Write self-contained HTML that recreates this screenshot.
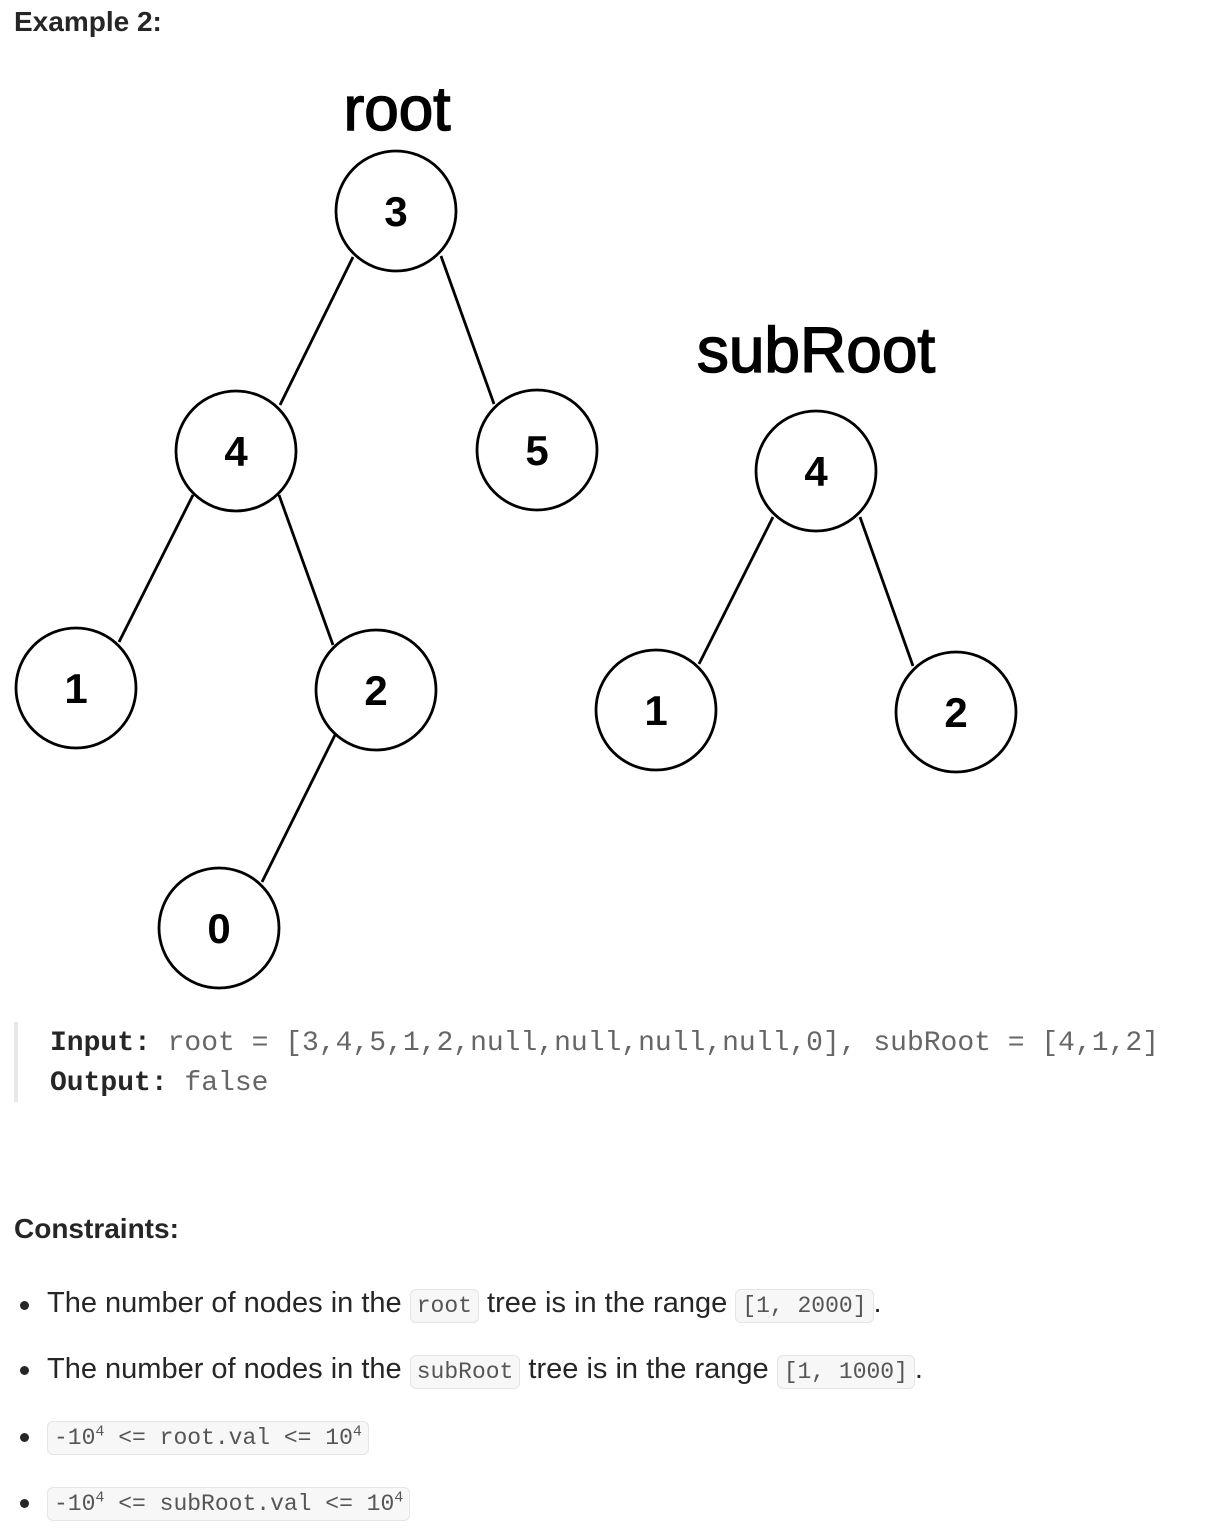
<!DOCTYPE html>
<html><head><style>
body{margin:0;width:1206px;height:1538px;background:#fff;position:relative;font-family:"Liberation Sans",sans-serif;color:#262626;overflow:hidden}
.a{position:absolute;white-space:nowrap}
.m{font-family:"Liberation Mono",monospace}
code{font-family:"Liberation Mono",monospace;font-size:23px;background:#f7f7f7;border:1px solid #e5e5e5;border-radius:6px;padding:3px 6px;color:#555}
.b{position:absolute;left:20px;width:9px;height:9px;border-radius:50%;background:#262626}
sup{font-size:15px}
</style></head><body>
<div class="a" style="left:14px;top:6px;font-size:28px;font-weight:bold">Example 2:</div>
<svg class="a" style="left:0;top:0" width="1206" height="1000">
<g stroke="#000" stroke-width="2.8" fill="none">
<line x1="353" y1="257" x2="280" y2="405"/><line x1="441" y1="256" x2="494" y2="404"/>
<line x1="193" y1="495" x2="119" y2="642"/><line x1="279" y1="495" x2="333" y2="645"/>
<line x1="335" y1="735" x2="262" y2="882"/><line x1="773" y1="517" x2="699" y2="664"/>
<line x1="860" y1="517" x2="913" y2="666"/>
<circle cx="396" cy="211" r="60"/><circle cx="236" cy="451" r="60"/><circle cx="537" cy="450" r="60"/>
<circle cx="76" cy="688" r="60"/><circle cx="376" cy="690" r="60"/><circle cx="219" cy="928" r="60"/>
<circle cx="816" cy="471" r="60"/><circle cx="656" cy="710" r="60"/><circle cx="956" cy="712" r="60"/>
</g>
<g font-family="Liberation Sans" font-weight="bold" font-size="42" text-anchor="middle" fill="#000">
<text x="396" y="226">3</text><text x="236" y="466">4</text><text x="537" y="465">5</text>
<text x="76" y="703">1</text><text x="376" y="705">2</text><text x="219" y="943">0</text>
<text x="816" y="486">4</text><text x="656" y="725">1</text><text x="956" y="727">2</text>
<text x="397" y="130" font-size="62" font-weight="normal" stroke="#000" stroke-width="1.5">root</text>
<text x="816" y="372" font-size="64" font-weight="normal" stroke="#000" stroke-width="1.5">subRoot</text>
</g></svg>
<div class="a" style="left:14px;top:1022px;width:4px;height:80px;background:#e8e8e8"></div>
<div class="a m" style="left:50px;top:1024px;font-size:28px;color:#666;line-height:40px"><b style="color:#262626">Input:</b> root = [3,4,5,1,2,null,null,null,null,0], subRoot = [4,1,2]<br><b style="color:#262626">Output:</b> false</div>
<div class="a" style="left:14px;top:1213px;font-size:28px;font-weight:bold">Constraints:</div>
<div class="b" style="top:1301px"></div><div class="a" style="left:47px;top:1287px;font-size:29px">The number of nodes in the <code>root</code> tree is in the range <code>[1, 2000]</code>.</div>
<div class="b" style="top:1366px"></div><div class="a" style="left:47px;top:1353px;font-size:29px">The number of nodes in the <code>subRoot</code> tree is in the range <code>[1, 1000]</code>.</div>
<div class="b" style="top:1433px"></div><div class="a" style="left:47px;top:1419px;font-size:29px"><code>-10<sup>4</sup> &lt;= root.val &lt;= 10<sup>4</sup></code></div>
<div class="b" style="top:1499px"></div><div class="a" style="left:47px;top:1485px;font-size:29px"><code>-10<sup>4</sup> &lt;= subRoot.val &lt;= 10<sup>4</sup></code></div>
</body></html>
